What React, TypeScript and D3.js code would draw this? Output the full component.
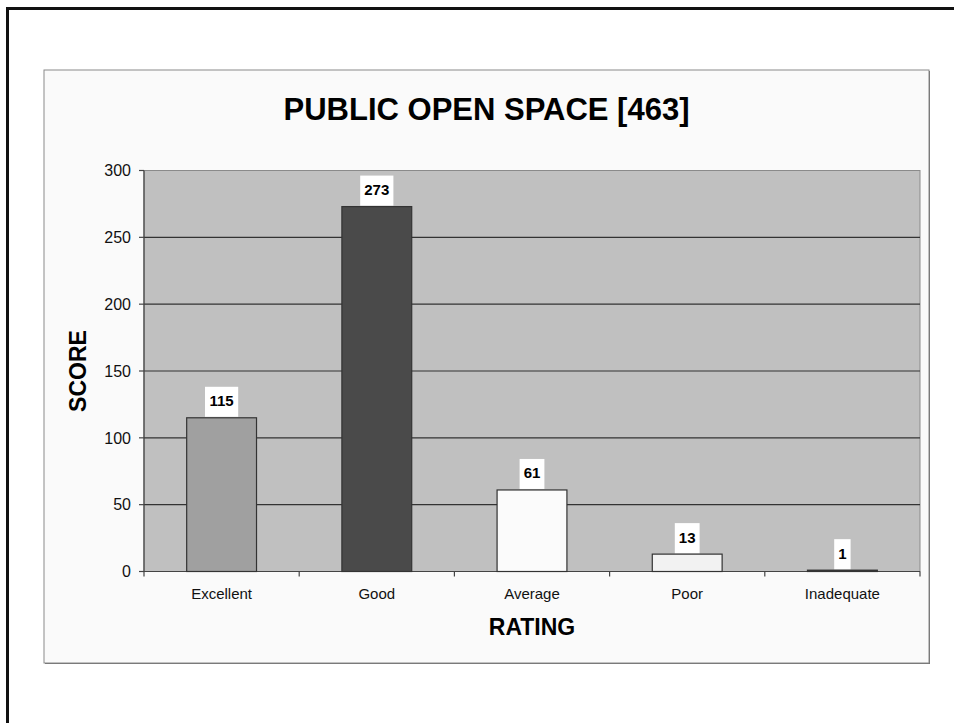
import React from "react";
import * as d3 from "d3";

const categories = ["Excellent", "Good", "Average", "Poor", "Inadequate"];
const scores = [115, 273, 61, 13, 1];
const barColors = ["#a0a0a0", "#4a4a4a", "#fbfbfb", "#f2f2f2", "#333333"];
const yTicks = [0, 50, 100, 150, 200, 250, 300];
const title = "PUBLIC OPEN SPACE [463]";
const xTitle = "RATING";
const yTitle = "SCORE";

const W = 954;
const H = 723;
const plot = { left: 144, right: 920, top: 170.5, bottom: 571.5 };
const box = { left: 44, top: 70, right: 929, bottom: 663 };
const font = "Arial, 'Liberation Sans', Helvetica, sans-serif";

export default function App() {
  const x = d3.scaleBand<string>().domain(categories).range([plot.left, plot.right]).padding(0);
  const y = d3.scaleLinear().domain([0, 300]).range([plot.bottom, plot.top]);
  const step = x.step();
  const barW = step * 0.45;
  const boundaries = d3.range(categories.length + 1).map((i) => plot.left + i * step);

  return (
    <svg width={W} height={H} style={{ position: "absolute", left: 0, top: 0, background: "#ffffff" }}>
      {/* outer page frame */}
      <rect x={7.5} y={8.5} width={W + 20} height={H + 20} fill="none" stroke="#111" strokeWidth={3} />
      {/* chart box */}
      <rect x={box.left + 1} y={box.top + 1} width={box.right - box.left} height={box.bottom - box.top} fill="#6a6a6a" />
      <rect x={box.left} y={box.top} width={box.right - box.left} height={box.bottom - box.top} fill="#fafafa" stroke="#8a8a8a" strokeWidth={1} />

      {/* title */}
      <text x={(box.left + box.right) / 2} y={120} textAnchor="middle" fontFamily={font} fontWeight="bold" fontSize={31} fill="#000">
        {title}
      </text>

      {/* plot area */}
      <rect x={plot.left} y={plot.top} width={plot.right - plot.left} height={plot.bottom - plot.top} fill="#c0c0c0" stroke="#8a8a8a" strokeWidth={1} />
      {yTicks.filter((t) => t > 0 && t < 300).map((t) => (
        <line key={"g" + t} x1={plot.left} x2={plot.right} y1={y(t)} y2={y(t)} stroke="#333" strokeWidth={1.2} />
      ))}

      {/* axes */}
      <line x1={plot.left} x2={plot.left} y1={plot.top} y2={plot.bottom} stroke="#444" strokeWidth={1.2} />
      <line x1={plot.left} x2={plot.right} y1={plot.bottom} y2={plot.bottom} stroke="#444" strokeWidth={1.2} />
      {yTicks.map((t) => (
        <g key={"y" + t}>
          <line x1={plot.left - 5} x2={plot.left} y1={y(t)} y2={y(t)} stroke="#444" strokeWidth={1.2} />
          <text x={131} y={y(t)} dy="0.36em" textAnchor="end" fontFamily={font} fontSize={16} fill="#111">
            {t}
          </text>
        </g>
      ))}
      {boundaries.map((bx, i) => (
        <line key={"xt" + i} x1={bx} x2={bx} y1={plot.bottom} y2={plot.bottom + 5} stroke="#444" strokeWidth={1.2} />
      ))}

      {/* bars */}
      {categories.map((c, i) => {
        const cx = (x(c) as number) + step / 2;
        const top = y(scores[i]);
        const label = String(scores[i]);
        const lw = label.length * 8.4 + 8;
        return (
          <g key={c}>
            <rect x={cx - barW / 2} y={top} width={barW} height={plot.bottom - top} fill={barColors[i]} stroke="#333" strokeWidth={1.2} />
            <rect x={cx - lw / 2} y={top - 31} width={lw} height={30} fill="#ffffff" />
            <text x={cx} y={top - 11.5} textAnchor="middle" fontFamily={font} fontWeight="bold" fontSize={15} fill="#000">
              {label}
            </text>
            <text x={cx} y={599} textAnchor="middle" fontFamily={font} fontSize={15} fill="#111">
              {c}
            </text>
          </g>
        );
      })}

      {/* axis titles */}
      <text x={(plot.left + plot.right) / 2} y={635} textAnchor="middle" fontFamily={font} fontWeight="bold" fontSize={23} fill="#000">
        {xTitle}
      </text>
      <text
        transform={`translate(86,${(plot.top + plot.bottom) / 2}) rotate(-90)`}
        textAnchor="middle"
        fontFamily={font}
        fontWeight="bold"
        fontSize={23}
        fill="#000"
      >
        {yTitle}
      </text>
    </svg>
  );
}
